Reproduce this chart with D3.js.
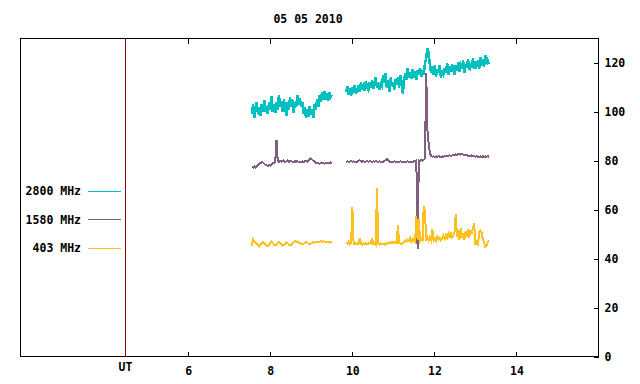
<!DOCTYPE html>
<html>
<head>
<meta charset="utf-8">
<script src="https://cdn.jsdelivr.net/npm/d3@7"></script>
<style>
  body { margin: 0; background: #fff; }
  text { font-family: "DejaVu Sans Mono", monospace; font-weight: bold; font-size: 11.5px; fill: #000; }
</style>
</head>
<body>
<div id="chart"></div>
<script>
const title = "05 05 2010";
const xTicks = [6, 8, 10, 12, 14];
const yTicks = [0, 20, 40, 60, 80, 100, 120];
const utHour = 4.47;

// two recording blocks, sampled every 0.03 h
const blockStart = [7.55, 9.85];
const step = 0.03;

const cyan1 = [
  99, 103, 97.5, 101, 104, 99, 102, 98.5, 103, 100,
  105, 100, 102.5, 99, 104, 101, 106.5, 100, 103, 99.5,
  104, 101, 107, 102, 104.5, 100, 105, 102, 98.5, 104,
  101, 106, 102, 105, 99.5, 104, 102, 107, 103, 105.5,
  102, 104, 99, 102, 97.5, 101, 98, 102.5, 99, 101,
  97.5, 103, 101, 105, 102, 107, 104, 108, 105, 108.5,
  105, 107.5, 104.5, 108, 106, 107
];
const cyan2 = [
  108, 110.5, 107, 109.5, 106.5, 110, 108, 111, 107.5, 109,
  111, 108, 112, 109, 110.5, 108.5, 112.5, 110, 109, 112,
  110, 113, 109.5, 111.5, 114, 110, 112, 109, 111.5, 110.5,
  115, 112, 116, 110, 113, 108, 114, 110.5, 112, 109,
  113.5, 111, 114, 110, 115, 112, 107.5, 113, 116, 113,
  118, 114, 116, 113.5, 117.5, 114, 116.5, 113, 117, 115,
  118, 114.5, 117, 115, 120, 122, 126, 124, 119, 116,
  118.5, 115, 119, 114.5, 117.5, 116, 119, 114, 117, 115.5,
  118, 116, 120, 115, 118.5, 116.5, 119.5, 117, 115, 119,
  117, 120.5, 116.5, 119, 117.5, 121, 116, 119.5, 118, 121.5,
  117, 120, 118, 122, 117.5, 120.5, 119, 121, 117.5, 122.5,
  119, 121.5, 118.5, 123, 119.5, 121, 119.5
];

const purple1 = [
  77.5, 77.2, 77.8, 77.3, 77.9, 78.2, 78.8, 79.1, 79.4, 79.3,
  78.8, 78.4, 78.1, 77.9, 78.3, 78.0, 78.6, 79.0, 79.2, 79.4,
  88.5, 80.0, 79.6, 80.1, 79.7, 79.9, 80.2, 79.6, 79.8, 80.1,
  79.5, 79.8, 80.0, 79.6, 79.4, 79.8, 79.5, 79.9, 79.6, 79.7,
  79.6, 79.8, 79.5, 79.9, 80.1, 79.7, 80.2, 80.6, 81.0, 80.5,
  80.0, 79.5, 79.2, 78.9, 79.0, 78.8, 79.1, 78.9, 79.0, 78.8,
  79.1, 78.9, 79.2, 79.0, 79.3, 79.1
];
const purple2 = [
  79.6, 79.8, 79.5, 79.7, 79.9, 79.6, 79.8, 79.5, 79.7, 79.6,
  80.0, 80.2, 79.8, 79.6, 79.9, 79.5, 79.7, 79.9, 79.6, 79.8,
  79.7, 79.5, 79.8, 79.6, 79.9, 79.7, 79.5, 79.8, 79.6, 79.3,
  79.5, 79.9, 80.3, 80.7, 80.2, 79.6, 79.4, 79.7, 79.5, 79.8,
  79.6, 79.4, 79.7, 79.5, 79.8, 79.6, 79.4, 79.7, 79.5, 79.6,
  79.8, 79.5, 79.7, 79.4, 79.6, 79.8, 79.9, 80.1, 44.0, 80.2,
  80.0, 80.3, 80.1, 80.4, 81.0, 116.0, 92.5, 87.0, 83.0, 82.0,
  81.6, 81.9, 81.5, 81.8, 81.6, 81.9, 81.7, 81.5, 81.8, 81.6,
  82.0, 82.2, 81.9, 82.1, 82.3, 82.0, 82.2, 82.5, 82.3, 82.6,
  82.4, 82.7, 82.9, 82.5, 82.8, 82.6, 82.4, 82.2, 82.5, 82.0,
  82.1, 81.9, 82.2, 81.8, 82.0, 81.6, 81.9, 81.7, 81.5, 81.8,
  81.6, 81.9, 81.5, 81.8, 81.6, 81.9, 81.7
];

const yellow1 = [
  45.2, 47.8, 47.0, 46.5, 46.0, 45.5, 45.0, 45.8, 46.4, 46.7,
  46.5, 45.8, 45.2, 45.0, 45.6, 46.4, 47.0, 46.3, 45.7, 45.5,
  45.8, 46.5, 46.8, 46.3, 45.6, 45.3, 45.5, 46.2, 46.7, 46.4,
  45.8, 45.4, 45.6, 46.1, 46.9, 47.3, 46.8, 47.1, 46.6, 46.3,
  45.9, 45.8, 46.0, 46.4, 46.8, 46.5, 46.0, 45.8, 46.2, 46.6,
  46.7, 46.5, 46.8, 47.0, 46.7, 46.9, 47.2, 46.8, 47.1, 46.9,
  47.0, 46.7, 46.9, 46.6, 46.8, 46.7
];
const yellow2 = [
  46.5, 46.0, 46.8, 45.9, 46.3, 61.2, 46.0, 46.4, 45.9, 46.2,
  46.0, 48.5, 46.1, 45.8, 46.3, 46.0, 46.4, 46.1, 45.9, 46.5,
  46.2, 48.5, 46.0, 46.4, 45.7, 69.0, 46.2, 45.8, 46.3, 46.0,
  46.1, 45.7, 46.2, 45.9, 46.4, 46.6, 46.3, 46.8, 46.5, 46.9,
  46.6, 46.4, 53.8, 46.5, 46.2, 46.0, 46.3, 46.8, 47.5, 46.9,
  47.8, 47.2, 48.3, 47.0, 48.1, 47.4, 46.8, 57.4, 47.6, 56.0,
  47.3, 48.2, 47.5, 61.5, 59.4, 47.2, 48.6, 47.4, 48.8, 47.6,
  52.0, 47.5, 48.4, 47.3, 49.0, 47.8, 48.6, 47.5, 48.2, 49.3,
  48.0, 49.6, 48.5, 50.2, 48.4, 51.0, 48.8, 49.5, 50.8, 58.3,
  49.0, 51.5, 47.8, 52.4, 48.6, 50.5, 47.5, 51.2, 49.0, 52.0,
  48.5, 51.8, 50.0, 52.6, 54.5, 45.6, 46.8, 45.4, 50.8, 51.3,
  50.6, 48.0, 46.5, 44.9, 45.2, 46.8, 47.4
];

const seriesNames = ["2800 MHz", "1580 MHz", "403 MHz"];
const seriesColors = ["#00c0c0", "#806080", "#ffc020"];
const seriesWidths = [2.5, 2, 2];
const seriesBlocks = [[cyan1, cyan2], [purple1, purple2], [yellow1, yellow2]];

const width = 640;
const height = 384;
const plot = { left: 20.5, right: 598.5, top: 38.5, bottom: 356.5 };

const svg = d3
  .select("#chart")
  .append("svg")
  .attr("width", width)
  .attr("height", height);

const x = d3.scaleLinear().domain([1.91, 16]).range([plot.left, plot.right]);
const y = d3.scaleLinear().domain([0, 130]).range([plot.bottom, plot.top]);

svg
  .append("text")
  .attr("x", 308)
  .attr("y", 23)
  .attr("text-anchor", "middle")
  .text(title);

// axes, ticks pointing inward like gnuplot
const bottomAxis = svg
  .append("g")
  .attr("transform", "translate(0," + plot.bottom + ")")
  .call(d3.axisBottom(x).tickValues(xTicks).tickSize(-5).tickPadding(10).tickFormat(d3.format("d")));

const topAxis = svg
  .append("g")
  .attr("transform", "translate(0," + plot.top + ")")
  .call(d3.axisTop(x).tickValues(xTicks).tickSize(-5).tickFormat(""));

const rightAxis = svg
  .append("g")
  .attr("transform", "translate(" + plot.right + ",0)")
  .call(d3.axisRight(y).tickValues(yTicks).tickSize(-5).tickPadding(6));

[bottomAxis, topAxis, rightAxis].forEach(function (g) {
  g.select(".domain").remove();
  g.selectAll("line").attr("stroke", "#000").attr("shape-rendering", "crispEdges");
  g.selectAll("text").attr("font-family", null).attr("font-size", null).attr("fill", null);
});

svg
  .append("rect")
  .attr("x", plot.left)
  .attr("y", plot.top)
  .attr("width", plot.right - plot.left)
  .attr("height", plot.bottom - plot.top)
  .attr("fill", "none")
  .attr("stroke", "#000")
  .attr("shape-rendering", "crispEdges");

// UT marker
svg
  .append("line")
  .attr("x1", x(utHour))
  .attr("x2", x(utHour))
  .attr("y1", plot.top)
  .attr("y2", plot.bottom)
  .attr("stroke", "#900000")
  .attr("shape-rendering", "crispEdges");

svg
  .append("text")
  .attr("x", x(utHour))
  .attr("y", 371)
  .attr("text-anchor", "middle")
  .text("UT");

const line = d3
  .line()
  .x((d) => x(d.t))
  .y((d) => y(d.v));

seriesBlocks.forEach(function (blocks, s) {
  blocks.forEach(function (values, b) {
    const pts = values.map((v, i) => ({ t: blockStart[b] + i * step, v: v }));
    svg
      .append("path")
      .datum(pts)
      .attr("d", line)
      .attr("fill", "none")
      .attr("stroke", seriesColors[s])
      .attr("stroke-width", seriesWidths[s])
      .attr("stroke-linejoin", "miter")
      .attr("shape-rendering", "crispEdges");
  });
});

// legend
const legendY = [191, 219.5, 248];
seriesNames.forEach(function (name, i) {
  svg
    .append("text")
    .attr("x", 81)
    .attr("y", legendY[i])
    .attr("dy", "0.35em")
    .attr("text-anchor", "end")
    .text(name);
  svg
    .append("line")
    .attr("x1", 88)
    .attr("x2", 121)
    .attr("y1", legendY[i])
    .attr("y2", legendY[i])
    .attr("stroke", seriesColors[i])
    .attr("shape-rendering", "crispEdges");
});
</script>
</body>
</html>
